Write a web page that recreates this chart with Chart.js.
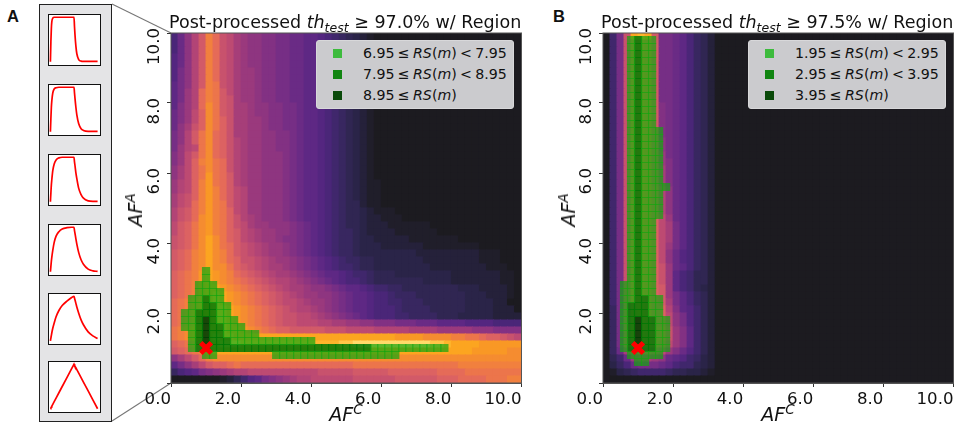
<!DOCTYPE html>
<html>
<head>
<meta charset="utf-8">
<script src="https://cdn.jsdelivr.net/npm/chart.js@4/dist/chart.umd.min.js"></script>
<style>
	body { margin: 0; background: #fff; font-family: "DejaVu Sans", sans-serif; color: #111; }
	#page { position: relative; width: 957px; height: 427px; overflow: hidden; }
	canvas { position: absolute; display: block; }
	#chartA, #chartB { filter: blur(0.4px); }
	.txt { position: absolute; white-space: nowrap; }
	.title { top: 10px; font-size: 17.5px; line-height: 24px; z-index: 3; }
	.title .lo { font-size: 12.5px; font-style: italic; position: relative; top: 4px; }
	.axlabel { font-size: 19px; font-style: italic; z-index: 3; }
	.axlabel sup { font-size: 13.5px; line-height: 0; vertical-align: 7px; }
	.ylab { transform: translate(-50%, -50%) rotate(-90deg); }
	.xlab { transform: translate(-50%, -50%); }
	.panel { font-family: "Liberation Sans", sans-serif; font-weight: bold; font-size: 16.5px; }
	.legend { position: absolute; top: 40px; width: 198px; height: 69px; background: #cbcbce; border: 1px solid #d8d8da; box-sizing: border-box; border-radius: 3px; z-index: 3; }
	.legend div { position: absolute; left: 46px; font-size: 14.2px; word-spacing: -1.25px; line-height: 20px; white-space: nowrap; }
	.legend span { position: absolute; left: 16px; width: 9px; height: 9px; }
	#inset { position: absolute; left: 39px; top: 4px; width: 73px; height: 418px; box-sizing: border-box; background: #e4e4e6; border: 1.6px solid #222; }
	.box { position: absolute; left: 48px; width: 53px; height: 52px; box-sizing: border-box; background: #fff; border: 1.4px solid #111; }
	#conn { position: absolute; left: 0; top: 0; }
</style>
</head>
<body>
<div id="page">
	<svg id="conn" width="957" height="427">
		<line x1="112" y1="4" x2="171" y2="33" stroke="#777" stroke-width="1.1"></line>
		<line x1="112" y1="421" x2="171" y2="383" stroke="#777" stroke-width="1.1"></line>
	</svg>
	<div id="inset"></div>
	<div class="txt panel" style="left:7px;top:7px">A</div>
	<div class="txt panel" style="left:553px;top:7px">B</div>
	<canvas id="chartA" width="424" height="427" style="left:110px;top:0;width:424px;height:427px"></canvas>
	<canvas id="chartB" width="423" height="427" style="left:543px;top:0;width:423px;height:427px"></canvas>
	<div class="txt title" style="left:169px">Post-processed <i>th</i><span class="lo">test</span> ≥ 97.0% w/ Region</div>
	<div class="txt title" style="left:601px">Post-processed <i>th</i><span class="lo">test</span> ≥ 97.5% w/ Region</div>
	<div class="txt axlabel ylab" style="left:135px;top:210px">AF<sup>A</sup></div>
	<div class="txt axlabel ylab" style="left:568px;top:210px">AF<sup>A</sup></div>
	<div class="txt axlabel xlab" style="left:346px;top:414px">AF<sup>C</sup></div>
	<div class="txt axlabel xlab" style="left:778px;top:414px">AF<sup>C</sup></div>
	<div class="legend" style="left:316px">
		<span style="top:8px;background:#3dbb3d"></span><div style="top:2px">6.95 ≤ <i>RS</i>(<i>m</i>) &lt; 7.95</div>
		<span style="top:29px;background:#118511"></span><div style="top:23px">7.95 ≤ <i>RS</i>(<i>m</i>) &lt; 8.95</div>
		<span style="top:50px;background:#0a4a0a"></span><div style="top:44px">8.95 ≤ <i>RS</i>(<i>m</i>)</div>
	</div>
	<div class="legend" style="left:748px">
		<span style="top:8px;background:#3dbb3d"></span><div style="top:2px">1.95 ≤ <i>RS</i>(<i>m</i>) &lt; 2.95</div>
		<span style="top:29px;background:#118511"></span><div style="top:23px">2.95 ≤ <i>RS</i>(<i>m</i>) &lt; 3.95</div>
		<span style="top:50px;background:#0a4a0a"></span><div style="top:44px">3.95 ≤ <i>RS</i>(<i>m</i>)</div>
	</div>
</div>
<script>
// colour levels of the heat map, the characters in the rows below index into this
var levelChars = "0123456789abcdefghijklmnopqrstu";
var levelColors = ["#1c1b20","#201e2a","#25213a","#2a2448","#302652","#382760","#40276c","#4a2678","#542680","#5e2884","#6a2b85","#762e85","#823183","#8e3580","#9a397d","#a63e79","#b24476","#bd4a72","#c8526d","#d25a68","#dc6262","#e56b58","#ec754b","#f1803e","#f58c30","#f99825","#fca520","#fdb52c","#fec648","#ffda6a","#ffee90"];

// heat rows, top row (9.8-10.0) first, bottom row (0.0-0.2) last. missing cells = level 0
var heatA = [
	"7adgjnlihfeddccbbaa9987654321",
	"7adgjnlihfeddccbbaa9987654321",
	"7adgjnlihfeddccbbaa9987654321",
	"8adgjnlihfeddccbbaa9987654321",
	"8adgjnlihfeddccbbaa9987654321",
	"8bdgjnlihfeedccbbaa9987654321",
	"8bdgjnlihfeedccbbaa9987654321",
	"9bdgjnmihfeedccbbaa9987654321",
	"9beglnmjhfeedccbbaa9987654321",
	"9beglnmjifeedccbbaa9987654321",
	"9ceglomjiffeddccbba9987654321",
	"acehkomjiffeddccbba9987654321",
	"acehkomkiffeedccbba9987654321",
	"adfikomkiffeedccbba9987654321",
	"bdgjmolkiffeeddccba9987654321",
	"bdgjmolkigfeeddccba9987654321",
	"beghmolkigfeeddccba9987654321",
	"cehjmolkigfeedddcba9987654321",
	"cehknomligfeedddcba9987654321",
	"dfhkmomligfeedddcba9987654321",
	"dfhkmpmljgfeedddcba9987654321",
	"eghknpmljgfeedddcba99876543211",
	"eghknpnljhgeedddcba99876543211",
	"fhiknpnljhgeedddcba99876543211",
	"fhilnpnmjhgeedddcba99876544211",
	"gijlnpnmkhgeedddcba9987654432111",
	"gijlopnmkigfedddcba99876544322111",
	"hjkmopnmkihfeedddcba98765443222111111",
	"hjkmopnmkjhgfeeddcba987655432222111111",
	"ijkmoqomkjhgfeedccba987655433222221111111",
	"ijkmoqomljihgfeedcba987655433322222211111111",
	"jklnoqonljihgfeedcba987655433333333222222222111",
	"jklnoqonlkiihgfeedcba987655443333333222222221110",
	"jklnoqoomkjihgffedcba987665443333333322222222111",
	"klmnpqponlkjihgffedcba998766544433333333222222211",
	"klmnpqponmlkjihggfedcba98776544444443333222222211",
	"klmnpqqponmlkjihgffeddcba998766554444444433322221",
	"klmnpqrqponmlkjihgfeeddcba99877655544444443332221",
	"lmnopqrqponmlkjihhgfeedcba9987766555444444333322",
	"lmnopqrrqponmlkjihggfedcba99877765555444443333222",
	"lmnopqrrqponmlkjiihhgfedcba98777665555444333332222",
	"lmnopqrrqponmlkjiihhhggffeeddcccbbbaaa999988887777",
	"mnopqrrrqqponmlkkjjjjjiiihhhhgggggffffeeeeedddcccc",
	"mnopqrsrrqqqqqqqqqqqqqqqqqqqqqqqppppoooonnmmlkkjih",
	"klmnpqrsssrrrrrrrrrrrrrrsstttttttttttssrqqqqpppppp",
	"jklmnpqqqqqqqqqqqqqqqqqqqqqqqqqqqqqqqqqqqqqpppppoo",
	"dfhjlnoooooooooooooooooooooooooooooooooooooooooooo",
	"9bdfhjkklmllllllllllllllllmmmmmmmmmmmmmmmnnnnnnnnn",
	"5789bcdefgghhhhhhhhhhiiiiijjjjjkkkkkkkllllmmmmmmmm",
	"0000000124689bcdefgghhhhhhiiiiiijjjjjjkkkllllmmmnn"
];
var heatB = [
	"06biqrqjbba97542",
	"06bimnmjbba97542",
	"06bimnmjbba97542",
	"06bimnmjbba97542",
	"06bimnmjbba97542",
	"06bimnmjbba97542",
	"06bimnmjbba97542",
	"06bimnmjbba97542",
	"06bimnmjbba97542",
	"06bimnmjbba97542",
	"06bimnmjcba97542",
	"06bimnmjcba97542",
	"06bimnmjcba97542",
	"06bimnmjcba97542",
	"06bimnmjcba97542",
	"06bimnmjdba97542",
	"06bimnmjdba97542",
	"06bimnmjeba97542",
	"06bimnmjeca97542",
	"06bimnmjfca97542",
	"06bimnmjfca97542",
	"06bimnmjfca97542",
	"06bimnmkgda97542",
	"06bimnmkgda97542",
	"06bimnmkgda97542",
	"06bimnmkgda97542",
	"06bimnmkhea97542",
	"06bimnmkhfb97542",
	"06bimnmkhfb97542",
	"06bimnmkhfb97542",
	"06bimnmkheb97542",
	"06bimnmkhda87542",
	"06bimnmkhda87542",
	"06bimnmkiea97542",
	"06bimnmkie976442",
	"06bimnmkie976442",
	"06bimnmkje976432",
	"06bimnmkjeb97542",
	"06bimnmkjfb97542",
	"05bimnmkkgc98642",
	"05bimnmkkhdb8642",
	"05bimnmkkhdb8642",
	"05bimnmlliec9642",
	"05bimnmlliec9642",
	"05bilmmlkhec9642",
	"05afhjjiheca8642",
	"046aeffeda986532",
	"0357abbba9766432",
	"0134566665443321",
	"0"
];

// markers of each RS class: [y, first x, last x], one marker every 0.2
var lightA = [[3.2,1,1],[3,1,1],[2.8,0.8,1.2],[2.6,0.8,1.4],[2.4,0.6,0.8],[2.4,1.2,1.4],[2.2,0.6,0.8],[2.2,1.4,1.6],[2,0.4,0.6],[2,1.4,1.6],[1.8,0.4,0.6],[1.8,1.4,1.8],[1.6,0.4,0.6],[1.6,1.6,2],[1.4,0.6,0.6],[1.4,1.6,2.4],[1.2,0.6,0.6],[1.2,1.8,4],[1,0.6,0.6],[1,5.8,7.8],[0.8,1,1.2],[0.8,3,6.4]];
var midA = [[2.4,1,1],[2.2,1,1.2],[2,0.8,1.2],[1.8,0.8,0.8],[1.8,1.2,1.2],[1.6,0.8,0.8],[1.6,1.2,1.4],[1.4,0.8,0.8],[1.4,1.2,1.4],[1.2,0.8,0.8],[1.2,1.2,1.6],[1,0.8,5.6]];
var darkA = [[1.8,1,1],[1.6,1,1],[1.4,1,1],[1.2,1,1]];

var lightB = [[9.8,0.8,0.8],[9.8,1.2,1.4],[9.6,0.8,0.8],[9.6,1.2,1.4],[9.4,0.8,0.8],[9.4,1.2,1.4],[9.2,0.8,0.8],[9.2,1.2,1.4],[9,0.8,0.8],[9,1.2,1.4],[8.8,0.8,0.8],[8.8,1.2,1.4],[8.6,0.8,0.8],[8.6,1.2,1.4],[8.4,0.8,0.8],[8.4,1.2,1.4],[8.2,0.8,0.8],[8.2,1.2,1.4],[8,0.8,0.8],[8,1.2,1.4],[7.8,0.8,0.8],[7.8,1.2,1.4],[7.6,0.8,0.8],[7.6,1.2,1.4],[7.4,0.8,0.8],[7.4,1.2,1.4],[7.2,0.8,0.8],[7.2,1.2,1.6],[7,0.8,0.8],[7,1.2,1.6],[6.8,0.8,0.8],[6.8,1.2,1.6],[6.6,0.8,0.8],[6.6,1.2,1.6],[6.4,0.8,0.8],[6.4,1.2,1.6],[6.2,0.8,0.8],[6.2,1.2,1.6],[6,0.8,0.8],[6,1.2,1.6],[5.8,0.8,0.8],[5.8,1.2,1.6],[5.6,0.8,0.8],[5.6,1.2,1.8],[5.4,0.8,0.8],[5.4,1.2,1.6],[5.2,0.8,0.8],[5.2,1.2,1.6],[5,0.8,0.8],[5,1.2,1.6],[4.8,0.8,0.8],[4.8,1.2,1.6],[4.6,0.8,0.8],[4.6,1.2,1.4],[4.4,0.8,0.8],[4.4,1.2,1.4],[4.2,0.8,0.8],[4.2,1.2,1.4],[4,0.8,0.8],[4,1.2,1.4],[3.8,0.8,0.8],[3.8,1.2,1.4],[3.6,0.8,0.8],[3.6,1.2,1.4],[3.4,0.8,0.8],[3.4,1.2,1.4],[3.2,0.8,0.8],[3.2,1.2,1.4],[3,0.8,0.8],[3,1.2,1.4],[2.8,0.6,0.8],[2.8,1.2,1.4],[2.6,0.6,0.8],[2.6,1.2,1.4],[2.4,0.6,0.8],[2.4,1.4,1.6],[2.2,0.6,0.6],[2.2,1.4,1.6],[2,0.6,0.6],[2,1.4,1.6],[1.8,0.6,0.6],[1.8,1.6,1.8],[1.6,0.6,0.6],[1.6,1.6,1.8],[1.4,0.6,0.6],[1.4,1.6,1.8],[1.2,0.6,0.6],[1.2,1.6,1.8],[1,0.6,0.6],[1,1.6,1.8],[0.8,0.8,1.6],[0.6,1,1.2]];
var midB = [[9.8,1,1],[9.6,1,1],[9.4,1,1],[9.2,1,1],[9,1,1],[8.8,1,1],[8.6,1,1],[8.4,1,1],[8.2,1,1],[8,1,1],[7.8,1,1],[7.6,1,1],[7.4,1,1],[7.2,1,1],[7,1,1],[6.8,1,1],[6.6,1,1],[6.4,1,1],[6.2,1,1],[6,1,1],[5.8,1,1],[5.6,1,1],[5.4,1,1],[5.2,1,1],[5,1,1],[4.8,1,1],[4.6,1,1],[4.4,1,1],[4.2,1,1],[4,1,1],[3.8,1,1],[3.6,1,1],[3.4,1,1],[3.2,1,1],[3,1,1],[2.8,1,1],[2.6,1,1],[2.4,1,1.2],[2.2,0.8,1.2],[2,0.8,1.2],[1.8,0.8,0.8],[1.8,1.2,1.4],[1.6,0.8,0.8],[1.6,1.2,1.4],[1.4,0.8,0.8],[1.4,1.2,1.4],[1.2,0.8,0.8],[1.2,1.2,1.4],[1,0.8,1.4]];
var darkB = [[1.8,1,1],[1.6,1,1],[1.4,1,1],[1.2,1,1]];

// best point, same in both panels
var bestX = 1.0;
var bestY = 1.0;

var tickValues = [0, 2, 4, 6, 8, 10];

// action potential shapes of the inset, top to bottom
var curveX = [0,.01,.02,.03,.05,.08,.12,.18,.25,.35,.45,.5,.51,.52,.54,.56,.6,.65,.7,.8,.9,1];
var curve1 = [0,.45,.75,.9,.98,1,1,1,1,1,1,1,.8,.62,.35,.18,.05,.015,.01,.01,.01,.01];
var curve2 = [0,.3,.55,.7,.87,.96,.99,1,1,1,1,1,.88,.76,.55,.38,.18,.07,.03,.01,.01,.01];
var curve3 = [0,.2,.38,.5,.7,.85,.94,.985,1,1,1,1,.9,.82,.65,.52,.3,.16,.08,.02,.01,.01];
var curve4 = [0,.12,.24,.33,.48,.66,.8,.9,.96,.99,1,1,.93,.87,.74,.62,.43,.27,.17,.06,.02,.01];
var curve5 = [0,.06,.12,.18,.28,.4,.54,.68,.79,.89,.97,1,.96,.92,.84,.76,.62,.47,.36,.2,.11,.05];
var curve6 = [0,.02,.04,.06,.1,.16,.24,.36,.5,.7,.9,1,.98,.96,.92,.88,.8,.7,.6,.4,.2,0];

var CELL = 0.2;
var MARKER_PX = 8.2;

function heatPoints(rows) {
	var pts = [];
	for (var r = 0; r < rows.length; r++) {
		var j = rows.length - 1 - r;
		for (var i = 0; i < 50; i++) {
			var ch = rows[r].charAt(i) || "0";
			pts.push({ x: i * CELL + CELL / 2, y: j * CELL + CELL / 2, v: levelChars.indexOf(ch) });
		}
	}
	return pts;
}

function markerPoints(runs) {
	var pts = [];
	runs.forEach(function(run) {
		var n = Math.round((run[2] - run[1]) / CELL);
		for (var k = 0; k <= n; k++) {
			pts.push({ x: run[1] + k * CELL, y: run[0] });
		}
	});
	return pts;
}

function cellRadius(ctx) {
	var s = ctx.chart.scales.x;
	return (s.width / 50 + 1) * Math.SQRT1_2;
}

function markerSet(runs, color, order) {
	return {
		data: markerPoints(runs),
		pointStyle: "rect",
		pointRadius: MARKER_PX * Math.SQRT1_2,
		pointBackgroundColor: color,
		pointBorderWidth: 0,
		order: order
	};
}

var frame = {
	id: "frame",
	afterDatasetsDraw: function(chart) {
		var a = chart.chartArea, c = chart.ctx;
		c.save();
		c.strokeStyle = "#555";
		c.lineWidth = 1;
		c.strokeRect(a.left, a.top, a.right - a.left, a.bottom - a.top);
		c.restore();
	}
};

function heatChart(id, rows, light, mid, dark, yWidth, rightPad) {
	return new Chart(document.getElementById(id), {
		type: "scatter",
		data: {
			datasets: [
				{
					data: [{ x: bestX, y: bestY }],
					pointStyle: "crossRot",
					pointRadius: 7.5,
					pointBorderColor: "#ff0000",
					pointBorderWidth: 5,
					order: 0
				},
				markerSet(light, "rgba(20,165,15,0.7)", 1),
				markerSet(mid, "rgba(0,120,5,0.85)", 2),
				markerSet(dark, "rgba(0,60,5,0.9)", 3),
				{
					data: heatPoints(rows),
					pointStyle: "rect",
					pointRadius: cellRadius,
					pointBorderWidth: 0,
					pointBackgroundColor: function(ctx) {
						return levelColors[ctx.raw.v];
					},
					order: 4
				}
			]
		},
		options: {
			responsive: false,
			animation: false,
			events: [],
			layout: { padding: { top: 33, right: rightPad, left: 0, bottom: 0 } },
			plugins: { legend: { display: false }, tooltip: { enabled: false } },
			scales: {
				x: {
					type: "linear",
					min: 0,
					max: 10,
					afterBuildTicks: function(s) { s.ticks = tickValues.map(function(v) { return { value: v }; }); },
					afterFit: function(s) { s.height = 44; },
					border: { color: "#555" },
					grid: { drawOnChartArea: false, tickLength: 4, color: "#333" },
					ticks: {
						align: "end",
						padding: 3,
						color: "#111",
						font: { family: "DejaVu Sans", size: 16.6 },
						maxRotation: 0,
						callback: function(v) { return v.toFixed(1); }
					}
				},
				y: {
					type: "linear",
					min: 0,
					max: 10,
					afterBuildTicks: function(s) { s.ticks = tickValues.map(function(v) { return { value: v }; }); },
					afterFit: function(s) { s.width = yWidth; },
					border: { color: "#555" },
					grid: { drawOnChartArea: false, tickLength: 4, color: "#333" },
					ticks: {
						padding: 12,
						labelOffset: -5,
						color: "#111",
						font: { family: "DejaVu Sans", size: 16.6 },
						minRotation: 90,
						maxRotation: 90,
						callback: function(v) { return v === 0 ? "" : v.toFixed(1); }
					}
				}
			}
		},
		plugins: [frame]
	});
}

heatChart("chartA", heatA, lightA, midA, darkA, 61, 4);
heatChart("chartB", heatB, lightB, midB, darkB, 60, 4);

// inset with the six shapes
var boxTops = [13.5, 83.7, 153.7, 223.7, 292.7, 361.3];
[curve1, curve2, curve3, curve4, curve5, curve6].forEach(function(ys, n) {
	var page = document.getElementById("page");
	var box = document.createElement("div");
	box.className = "box";
	box.style.top = boxTops[n] + "px";
	page.appendChild(box);
	var cv = document.createElement("canvas");
	cv.width = 50;
	cv.height = 49;
	cv.style.left = "0px";
	cv.style.top = "0px";
	box.appendChild(cv);
	new Chart(cv, {
		type: "line",
		data: {
			datasets: [{
				data: curveX.map(function(x, k) { return { x: x, y: ys[k] }; }),
				borderColor: "#ff0000",
				borderWidth: 1.7,
				pointRadius: 0,
				cubicInterpolationMode: n < 5 ? "monotone" : "default",
				tension: 0
			}]
		},
		options: {
			responsive: false,
			animation: false,
			events: [],
			plugins: { legend: { display: false }, tooltip: { enabled: false } },
			scales: {
				x: { type: "linear", min: -0.03, max: 1.03, display: false },
				y: { type: "linear", min: -0.05, max: 1.05, display: false }
			}
		}
	});
});
</script>
</body>
</html>
